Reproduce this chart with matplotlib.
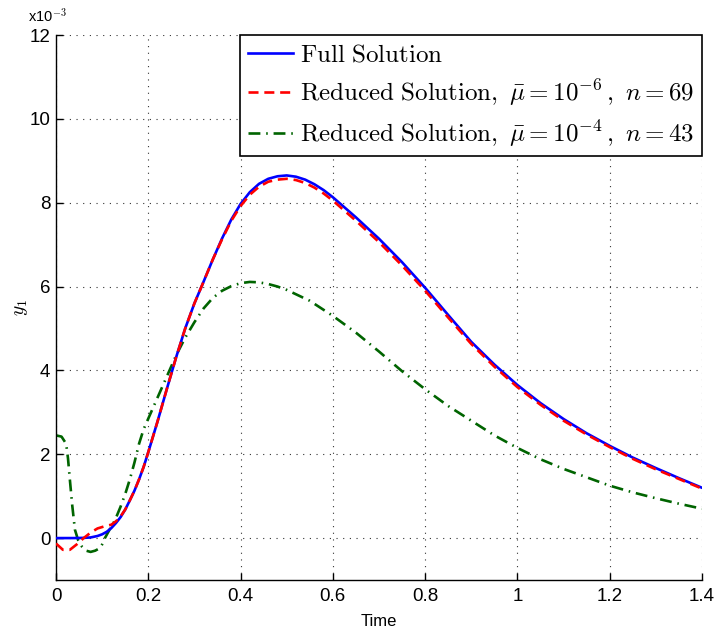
import matplotlib
matplotlib.use("Agg")
import matplotlib.pyplot as plt
from matplotlib.transforms import offset_copy

plt.rcParams['mathtext.fontset'] = 'cm'
plt.rcParams['font.family'] = ['Liberation Sans', 'DejaVu Sans']

# ---- data (y in units of 1e-3) ----
t_full = [0, 0.02, 0.04, 0.06, 0.075, 0.09, 0.10, 0.11, 0.12, 0.13, 0.14, 0.15, 0.16, 0.17,
          0.18, 0.19, 0.20, 0.22, 0.24, 0.26, 0.28, 0.30, 0.32, 0.34, 0.36, 0.38, 0.40, 0.42,
          0.44, 0.46, 0.48, 0.50, 0.52, 0.54, 0.56, 0.58, 0.60, 0.65, 0.70, 0.75, 0.80, 0.85,
          0.90, 0.95, 1.00, 1.05, 1.10, 1.15, 1.20, 1.25, 1.30, 1.35, 1.40]
y_full = [0, 0, 0, 0.005, 0.015, 0.05, 0.09, 0.15, 0.24, 0.36, 0.50, 0.68, 0.90, 1.13,
          1.40, 1.70, 2.05, 2.78, 3.55, 4.30, 5.00, 5.60, 6.12, 6.65, 7.15, 7.60, 7.97, 8.25,
          8.45, 8.57, 8.63, 8.65, 8.62, 8.55, 8.44, 8.30, 8.13, 7.65, 7.14, 6.58, 5.97, 5.32,
          4.68, 4.14, 3.65, 3.22, 2.84, 2.50, 2.20, 1.92, 1.67, 1.43, 1.20]

t_red = [0, 0.015, 0.03, 0.045, 0.06, 0.075, 0.09, 0.105, 0.12, 0.13, 0.14, 0.15, 0.16, 0.17,
         0.18, 0.19, 0.20, 0.22, 0.24, 0.26, 0.28, 0.30, 0.32, 0.34, 0.36, 0.38, 0.40, 0.42,
         0.44, 0.46, 0.48, 0.50, 0.52, 0.54, 0.56, 0.58, 0.60, 0.65, 0.70, 0.75, 0.80, 0.85,
         0.90, 0.95, 1.00, 1.05, 1.10, 1.15, 1.20, 1.25, 1.30, 1.35, 1.40]
y_red = [-0.13, -0.28, -0.28, -0.15, 0.0, 0.13, 0.23, 0.28, 0.32, 0.40, 0.52, 0.68, 0.90, 1.13,
         1.40, 1.70, 2.05, 2.78, 3.55, 4.30, 5.00, 5.60, 6.12, 6.65, 7.13, 7.57, 7.92, 8.19,
         8.38, 8.50, 8.55, 8.57, 8.54, 8.47, 8.36, 8.22, 8.05, 7.57, 7.06, 6.50, 5.90, 5.26,
         4.63, 4.09, 3.60, 3.18, 2.80, 2.47, 2.17, 1.89, 1.64, 1.41, 1.18]

t_green = [0, 0.012, 0.022, 0.026, 0.030, 0.035, 0.041, 0.048, 0.056, 0.065, 0.075, 0.085,
           0.095, 0.100, 0.106, 0.115, 0.128, 0.14, 0.15, 0.16, 0.17, 0.18, 0.19, 0.20, 0.22,
           0.24, 0.26, 0.28, 0.30, 0.32, 0.34, 0.36, 0.38, 0.40, 0.42, 0.44, 0.46, 0.48, 0.50,
           0.55, 0.60, 0.65, 0.70, 0.75, 0.80, 0.85, 0.90, 0.95, 1.00, 1.05, 1.10, 1.15, 1.20,
           1.25, 1.30, 1.35, 1.40]
y_green = [2.45, 2.42, 2.25, 1.90, 1.40, 0.80, 0.20, -0.05, -0.20, -0.30, -0.33, -0.30,
           -0.24, -0.15, 0.0, 0.18, 0.43, 0.75, 1.05, 1.40, 1.80, 2.25, 2.60, 2.85, 3.35,
           3.85, 4.35, 4.78, 5.15, 5.48, 5.73, 5.90, 6.01, 6.08, 6.11, 6.10, 6.06, 6.00, 5.92,
           5.66, 5.30, 4.90, 4.45, 3.98, 3.55, 3.15, 2.80, 2.45, 2.15, 1.88, 1.65, 1.45, 1.25,
           1.09, 0.95, 0.82, 0.70]

x_ticks = [0, 0.2, 0.4, 0.6, 0.8, 1.0, 1.2, 1.4]
x_ticklabels = ['0', '0.2', '0.4', '0.6', '0.8', '1', '1.2', '1.4']
y_ticks = [0, 2, 4, 6, 8, 10, 12]

labels = [r'$\mathrm{Full\ Solution}$',
          r'$\mathrm{Reduced\ Solution,}\ \bar{\mu}=10^{-6}\,,\ n=69$',
          r'$\mathrm{Reduced\ Solution,}\ \bar{\mu}=10^{-4}\,,\ n=43$']

# ---- figure ----
fig = plt.figure(figsize=(7.16, 6.34), dpi=100)
ax = fig.add_axes([56/716, 1-580/634, (702-56)/716, (580-35)/634])

ax.plot(t_full, y_full, color='#0000ff', lw=1.9, label=labels[0], zorder=3)
ax.plot(t_red, y_red, color='#ff0000', lw=1.9, dashes=(3.8, 2.2), label=labels[1], zorder=4)
ax.plot(t_green, y_green, color='#006400', lw=1.9, dashes=(4.5, 2.2, 0.6, 2.2), label=labels[2], zorder=2)

ax.set_xlim(0, 1.4)
ax.set_ylim(-1, 12)
ax.set_xticks(x_ticks)
ax.set_xticklabels(x_ticklabels)
ax.set_yticks(y_ticks)
ax.tick_params(direction='in', length=5, width=1, labelsize=13.5)
ax.tick_params(axis='x', pad=6)
ax.tick_params(axis='y', pad=4)
ax.grid(True, color='#333333', linestyle=(0, (1, 5)), linewidth=0.8)

for s in ['top', 'right']:
    ax.spines[s].set_visible(False)
for s in ['left', 'bottom']:
    ax.spines[s].set_linewidth(1.0)

ax.set_xlabel('Time', fontsize=12, labelpad=6)
ax.set_ylabel(r'$y_1$', fontsize=14, labelpad=0)

trans = offset_copy(ax.transAxes, fig=fig, x=-28, y=10, units='dots')
ax.text(0.0, 1.0, r'x10$^{-3}$', transform=trans, fontsize=10.5, ha='left', va='bottom')

leg = ax.legend(loc='upper right', bbox_to_anchor=(1.0, 1.0), fontsize=18, frameon=True,
                fancybox=False, handlelength=1.8, handletextpad=0.3, borderpad=0.3,
                labelspacing=0.42, borderaxespad=0.0)
leg.get_frame().set_edgecolor('black')
leg.get_frame().set_linewidth(1.2)
leg.get_frame().set_alpha(1.0)

fig.savefig('out.png', dpi=100)
